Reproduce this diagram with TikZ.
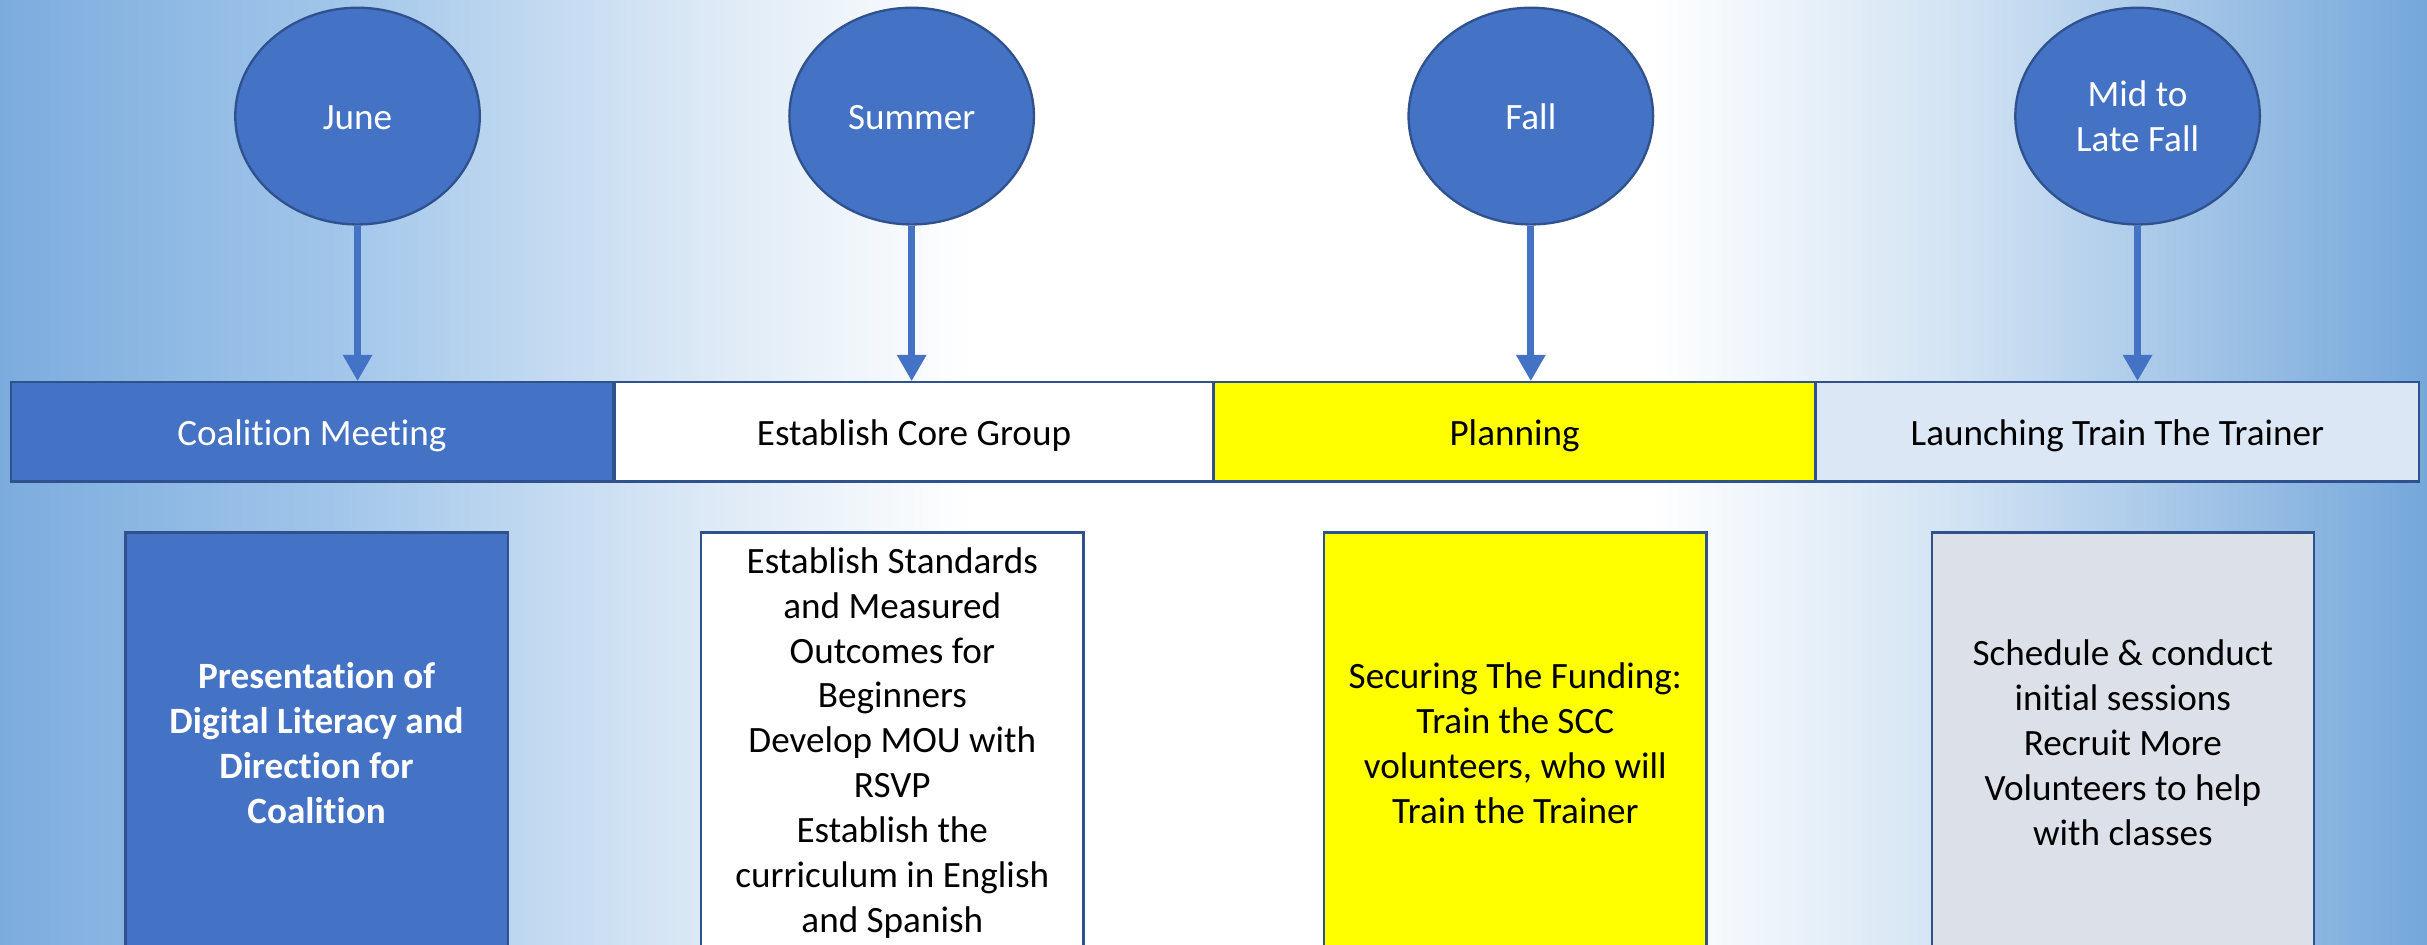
\documentclass[tikz,border=0pt]{standalone}
\usepackage{fontspec}
\setmainfont{Carlito}[Ligatures=CommonOff]
\usetikzlibrary{shapes.geometric,arrows.meta}
\definecolor{acc}{HTML}{4472C4}
\definecolor{edgec}{HTML}{2F528F}
\definecolor{ylw}{HTML}{FFFF00}
\definecolor{launch}{HTML}{DBE7F4}
\definecolor{cardgrey}{HTML}{DCE1E9}
\definecolor{bgL}{RGB}{124,172,222}
\definecolor{bgA}{RGB}{162,198,234}
\definecolor{bgB}{RGB}{220,233,246}
\definecolor{bgC}{RGB}{208,226,243}
\definecolor{bgR}{RGB}{117,167,219}
\pgfdeclarehorizontalshading{bgshade}{100bp}{color(0bp)=(bgL); color(25bp)=(bgL); color(32bp)=(bgA); color(39.5bp)=(bgB); color(45bp)=(white); color(59bp)=(white); color(65.5bp)=(bgC); color(75bp)=(bgR); color(100bp)=(bgR)}
\tikzset{
  txt/.style={font=\fontsize{24}{29}\selectfont, align=center},
  oneline/.style={text height=19pt, text depth=2pt},
  ell/.style={ellipse, draw=edgec, line width=1.5pt, fill=acc, minimum width=158pt, minimum height=140pt, inner sep=0pt, text=white, txt},
  arr/.style={draw=acc, line width=4.5pt, -{Triangle[length=17pt,width=18pt]}},
  bar/.style={rectangle, draw=edgec, line width=1.5pt, minimum height=64pt, inner sep=0pt, txt, oneline},
  card/.style={rectangle, draw=edgec, line width=1.5pt, minimum width=247pt, minimum height=272pt, inner sep=0pt, txt}
}
\begin{document}
\begin{tikzpicture}[x=1pt,y=-1pt]
\useasboundingbox (0,0) rectangle (1568,610);
\clip (0,0) rectangle (1568,610);
\shade[shading=bgshade] (0,0) rectangle (1568,610);

% ellipses
\node[ell, oneline] (june) at (231,75) {June};
\node[ell, oneline] (summer) at (589,75) {Summer};
\node[ell, oneline] (fall) at (989,75) {Fall};
\node[ell] (late) at (1381,75) {Mid to\\Late Fall};

% bars
\node[bar, fill=acc, text=white, minimum width=389pt] (b1) at (201.5,279) {Coalition Meeting};
\node[bar, fill=white, minimum width=387pt] (b2) at (590.5,279) {Establish Core Group};
\node[bar, fill=ylw, minimum width=389pt] (b3) at (978.5,279) {Planning};
\node[bar, fill=launch, minimum width=390pt] (b4) at (1368,279) {Launching Train The Trainer};

% arrows
\draw[arr] (june.south) -- (june.south |- b1.north);
\draw[arr] (summer.south) -- (summer.south |- b2.north);
\draw[arr] (fall.south) -- (fall.south |- b3.north);
\draw[arr] (late.south) -- (late.south |- b4.north);

% cards
\node[card, fill=acc, text=white, font=\fontsize{24}{29}\selectfont\bfseries] (c1) at (204.5,480) {Presentation of\\Digital Literacy and\\Direction for\\Coalition};
\node[card, fill=white] (c2) at (576.5,480) {Establish Standards\\and Measured\\Outcomes for\\Beginners\\Develop MOU with\\RSVP\\Establish the\\curriculum in English\\and Spanish};
\node[card, fill=ylw] (c3) at (979,480) {Securing The Funding:\\Train the SCC\\volunteers, who will\\Train the Trainer};
\node[card, fill=cardgrey] (c4) at (1371.5,480) {Schedule \& conduct\\initial sessions\\Recruit More\\Volunteers to help\\with classes};
\end{tikzpicture}
\end{document}
